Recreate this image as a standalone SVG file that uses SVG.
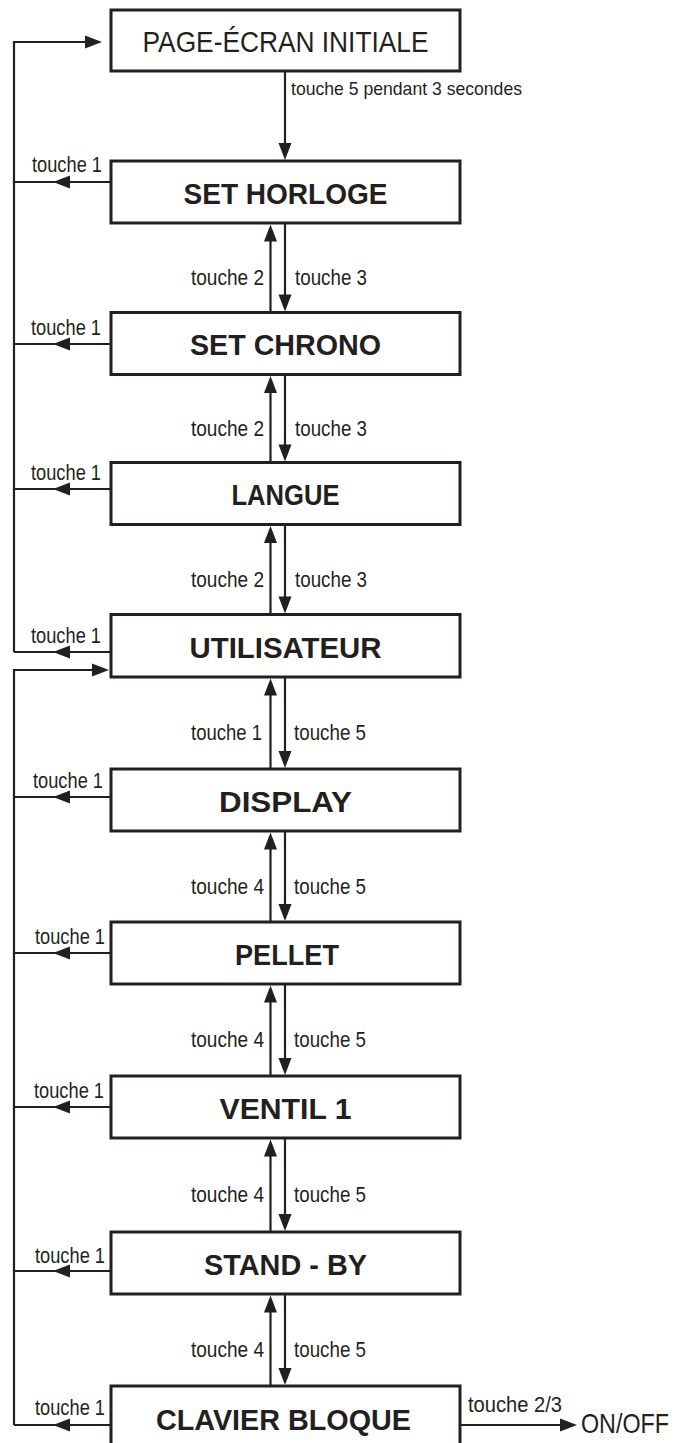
<svg xmlns="http://www.w3.org/2000/svg" xmlns:xlink="http://www.w3.org/1999/xlink" width="685" height="1443" viewBox="0 0 685 1443">
<style>
.box{fill:#fff;stroke:#231f20;stroke-width:3}
.ln{fill:none;stroke:#231f20;stroke-width:2.2}
.ah{fill:#231f20}
.t{font-family:"Liberation Sans",Arial,sans-serif;fill:#231f20}
.title{font-size:29px;font-weight:bold;text-anchor:middle}
.reg{font-size:30px;text-anchor:middle}
.lbl{font-size:22px}
.sm{font-size:18.5px}
.end{text-anchor:end}
</style>
<defs>
<path id="ah" d="M0,0 L-17,-6.5 L-17,6.5 Z"/>
</defs>
<rect width="685" height="1443" fill="#fff"/>

<g id="connectors">
<path class="ln" d="M14,652 V42 H90"/>
<use href="#ah" class="ah" transform="translate(102,42)"/>
<path class="ln" d="M14,1425 V670 H95"/>
<use href="#ah" class="ah" transform="translate(109,670)"/>
<path class="ln" d="M111,182 H14"/><use href="#ah" class="ah" transform="translate(53,182) rotate(180)"/>
<path class="ln" d="M111,344 H14"/><use href="#ah" class="ah" transform="translate(53,344) rotate(180)"/>
<path class="ln" d="M111,489 H14"/><use href="#ah" class="ah" transform="translate(53,489) rotate(180)"/>
<path class="ln" d="M111,652 H14"/><use href="#ah" class="ah" transform="translate(53,652) rotate(180)"/>
<path class="ln" d="M111,797 H14"/><use href="#ah" class="ah" transform="translate(53,797) rotate(180)"/>
<path class="ln" d="M111,953 H14"/><use href="#ah" class="ah" transform="translate(53,953) rotate(180)"/>
<path class="ln" d="M111,1107 H14"/><use href="#ah" class="ah" transform="translate(53,1107) rotate(180)"/>
<path class="ln" d="M111,1271 H14"/><use href="#ah" class="ah" transform="translate(53,1271) rotate(180)"/>
<path class="ln" d="M111,1425 H14"/><use href="#ah" class="ah" transform="translate(53,1425) rotate(180)"/>
<path class="ln" d="M285,71 V148"/><use href="#ah" class="ah" transform="translate(285,160) rotate(90)"/>
<path class="ln" d="M270.5,312.5 V236"/><use href="#ah" class="ah" transform="translate(270.5,224.5) rotate(-90)"/>
<path class="ln" d="M285,223 V300"/><use href="#ah" class="ah" transform="translate(285,311.5) rotate(90)"/>
<path class="ln" d="M270.5,462.5 V388"/><use href="#ah" class="ah" transform="translate(270.5,376) rotate(-90)"/>
<path class="ln" d="M285,374.5 V450"/><use href="#ah" class="ah" transform="translate(285,461.5) rotate(90)"/>
<path class="ln" d="M270.5,614.5 V538"/><use href="#ah" class="ah" transform="translate(270.5,526) rotate(-90)"/>
<path class="ln" d="M285,524.5 V602"/><use href="#ah" class="ah" transform="translate(285,613.5) rotate(90)"/>
<path class="ln" d="M270.5,769 V690"/><use href="#ah" class="ah" transform="translate(270.5,678.5) rotate(-90)"/>
<path class="ln" d="M285,677 V756"/><use href="#ah" class="ah" transform="translate(285,768) rotate(90)"/>
<path class="ln" d="M270.5,922 V844"/><use href="#ah" class="ah" transform="translate(270.5,832.5) rotate(-90)"/>
<path class="ln" d="M285,831 V909"/><use href="#ah" class="ah" transform="translate(285,921) rotate(90)"/>
<path class="ln" d="M270.5,1076 V997"/><use href="#ah" class="ah" transform="translate(270.5,985.5) rotate(-90)"/>
<path class="ln" d="M285,984 V1063"/><use href="#ah" class="ah" transform="translate(285,1075) rotate(90)"/>
<path class="ln" d="M270.5,1232 V1151"/><use href="#ah" class="ah" transform="translate(270.5,1139.5) rotate(-90)"/>
<path class="ln" d="M285,1138 V1219"/><use href="#ah" class="ah" transform="translate(285,1231) rotate(90)"/>
<path class="ln" d="M270.5,1386 V1307"/><use href="#ah" class="ah" transform="translate(270.5,1295.5) rotate(-90)"/>
<path class="ln" d="M285,1294 V1373"/><use href="#ah" class="ah" transform="translate(285,1385) rotate(90)"/>
<path class="ln" d="M460,1425 H565"/><use href="#ah" class="ah" transform="translate(577,1425)"/>

<text class="t sm" x="291" y="95" textLength="231" lengthAdjust="spacingAndGlyphs">touche 5 pendant 3 secondes</text>
<text class="t lbl" x="32" y="172" textLength="70" lengthAdjust="spacingAndGlyphs">touche 1</text>
<text class="t lbl" x="31" y="335" textLength="70" lengthAdjust="spacingAndGlyphs">touche 1</text>
<text class="t lbl" x="31" y="480" textLength="70" lengthAdjust="spacingAndGlyphs">touche 1</text>
<text class="t lbl" x="31" y="643" textLength="70" lengthAdjust="spacingAndGlyphs">touche 1</text>
<text class="t lbl" x="33" y="788" textLength="70" lengthAdjust="spacingAndGlyphs">touche 1</text>
<text class="t lbl" x="35" y="944" textLength="70" lengthAdjust="spacingAndGlyphs">touche 1</text>
<text class="t lbl" x="34" y="1098" textLength="70" lengthAdjust="spacingAndGlyphs">touche 1</text>
<text class="t lbl" x="35" y="1263" textLength="70" lengthAdjust="spacingAndGlyphs">touche 1</text>
<text class="t lbl" x="35" y="1415" textLength="70" lengthAdjust="spacingAndGlyphs">touche 1</text>

<text class="t lbl end" x="264" y="285" textLength="73" lengthAdjust="spacingAndGlyphs">touche 2</text>
<text class="t lbl" x="295" y="285" textLength="72" lengthAdjust="spacingAndGlyphs">touche 3</text>
<text class="t lbl end" x="264" y="436" textLength="73" lengthAdjust="spacingAndGlyphs">touche 2</text>
<text class="t lbl" x="295" y="436" textLength="72" lengthAdjust="spacingAndGlyphs">touche 3</text>
<text class="t lbl end" x="264" y="587" textLength="73" lengthAdjust="spacingAndGlyphs">touche 2</text>
<text class="t lbl" x="295" y="587" textLength="72" lengthAdjust="spacingAndGlyphs">touche 3</text>
<text class="t lbl end" x="262" y="740" textLength="71" lengthAdjust="spacingAndGlyphs">touche 1</text>
<text class="t lbl" x="294" y="740" textLength="72" lengthAdjust="spacingAndGlyphs">touche 5</text>
<text class="t lbl end" x="264" y="894" textLength="73" lengthAdjust="spacingAndGlyphs">touche 4</text>
<text class="t lbl" x="294" y="894" textLength="72" lengthAdjust="spacingAndGlyphs">touche 5</text>
<text class="t lbl end" x="264" y="1047" textLength="73" lengthAdjust="spacingAndGlyphs">touche 4</text>
<text class="t lbl" x="294" y="1047" textLength="72" lengthAdjust="spacingAndGlyphs">touche 5</text>
<text class="t lbl end" x="264" y="1202" textLength="73" lengthAdjust="spacingAndGlyphs">touche 4</text>
<text class="t lbl" x="294" y="1202" textLength="72" lengthAdjust="spacingAndGlyphs">touche 5</text>
<text class="t lbl end" x="264" y="1357" textLength="73" lengthAdjust="spacingAndGlyphs">touche 4</text>
<text class="t lbl" x="294" y="1357" textLength="72" lengthAdjust="spacingAndGlyphs">touche 5</text>
<text class="t lbl" x="468" y="1412" textLength="94" lengthAdjust="spacingAndGlyphs">touche 2/3</text>
<text class="t lbl" x="581" y="1433" style="font-size:28px" textLength="88" lengthAdjust="spacingAndGlyphs">ON/OFF</text>
</g>

<g id="n-page"><rect class="box" x="111" y="10" width="349" height="61"/><text class="t reg" x="285.5" y="52" textLength="286" lengthAdjust="spacingAndGlyphs">PAGE-ÉCRAN INITIALE</text></g>
<g id="n-horloge"><rect class="box" x="111" y="161" width="349" height="62"/><text class="t title" x="285.5" y="204" textLength="204" lengthAdjust="spacingAndGlyphs">SET HORLOGE</text></g>
<g id="n-chrono"><rect class="box" x="111" y="312.5" width="349" height="62"/><text class="t title" x="285.5" y="355" textLength="191" lengthAdjust="spacingAndGlyphs">SET CHRONO</text></g>
<g id="n-langue"><rect class="box" x="111" y="462.5" width="349" height="62"/><text class="t title" x="285.5" y="505" textLength="108" lengthAdjust="spacingAndGlyphs">LANGUE</text></g>
<g id="n-utilisateur"><rect class="box" x="111" y="614.5" width="349" height="62.5"/><text class="t title" x="285.5" y="657.5" textLength="192" lengthAdjust="spacingAndGlyphs">UTILISATEUR</text></g>
<g id="n-display"><rect class="box" x="111" y="769" width="349" height="62"/><text class="t title" x="285.5" y="811.5" textLength="133" lengthAdjust="spacingAndGlyphs">DISPLAY</text></g>
<g id="n-pellet"><rect class="box" x="111" y="922" width="349" height="62"/><text class="t title" x="287" y="964.5" textLength="104" lengthAdjust="spacingAndGlyphs">PELLET</text></g>
<g id="n-ventil"><rect class="box" x="111" y="1076" width="349" height="62"/><text class="t title" x="285.5" y="1118.5" textLength="132" lengthAdjust="spacingAndGlyphs">VENTIL 1</text></g>
<g id="n-standby"><rect class="box" x="111" y="1232" width="349" height="62"/><text class="t title" x="285.5" y="1274.5" textLength="163" lengthAdjust="spacingAndGlyphs">STAND - BY</text></g>
<g id="n-clavier"><rect class="box" x="111" y="1386" width="349" height="70"/><text class="t title" x="283.5" y="1430" textLength="255" lengthAdjust="spacingAndGlyphs">CLAVIER BLOQUE</text></g>
</svg>
